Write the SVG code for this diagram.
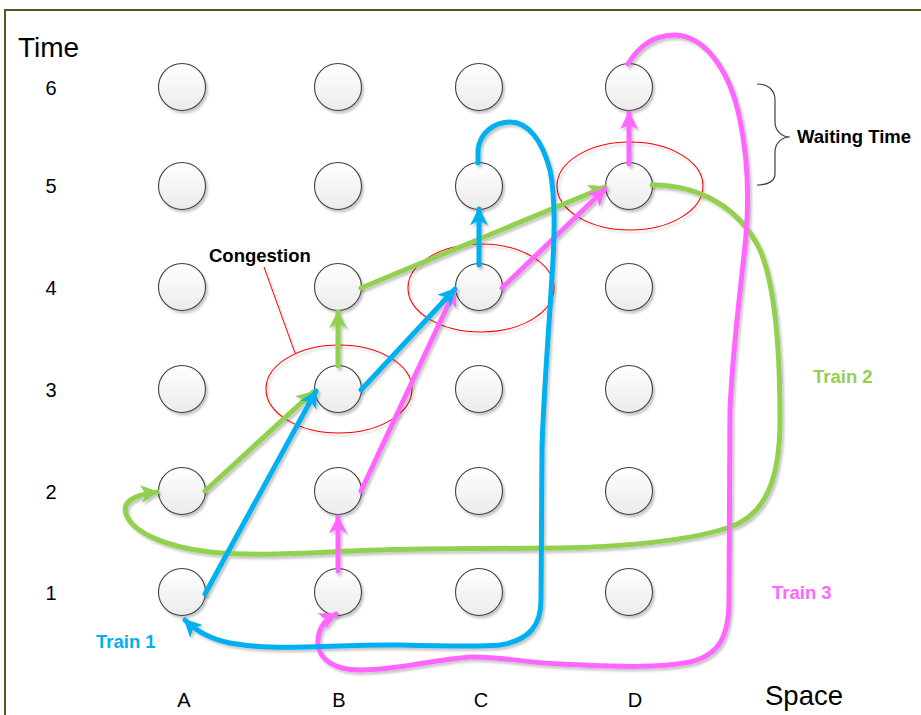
<svg xmlns="http://www.w3.org/2000/svg" width="921" height="715" viewBox="0 0 921 715">
<defs>
<style>
.node{fill:url(#ng);stroke:#404040;stroke-width:1.1}
.ax{font-family:"Liberation Sans",Arial,sans-serif;fill:#000}
.lbl{font-family:"Liberation Sans",Arial,sans-serif;font-weight:bold;font-size:18.5px}
.t1{stroke:#00B0F0;fill:none;stroke-width:5;stroke-linecap:round;stroke-linejoin:round}
.t2{stroke:#92D050;fill:none;stroke-width:5;stroke-linecap:round;stroke-linejoin:round}
.t3{stroke:#FF66FF;fill:none;stroke-width:5;stroke-linecap:round;stroke-linejoin:round}
.cg{fill:none;stroke:#FF0000;stroke-width:1.1}
</style>
<linearGradient id="ng" x1="0" y1="0" x2="0" y2="1">
<stop offset="0" stop-color="#ffffff"/>
<stop offset="1" stop-color="#ebebeb"/>
</linearGradient>
<filter id="sh" x="-20%" y="-20%" width="140%" height="140%">
<feDropShadow dx="2" dy="2.5" stdDeviation="1.2" flood-color="#000" flood-opacity="0.22"/>
</filter>
<marker id="a1" viewBox="0 0 10 10" refX="9" refY="5" markerWidth="3.6" markerHeight="3.6" markerUnits="strokeWidth" orient="auto">
<path d="M0,0 L10,5 L0,10 L2.5,5 z" fill="#00B0F0"/>
</marker>
<marker id="a2" viewBox="0 0 10 10" refX="9" refY="5" markerWidth="3.6" markerHeight="3.6" markerUnits="strokeWidth" orient="auto">
<path d="M0,0 L10,5 L0,10 L2.5,5 z" fill="#92D050"/>
</marker>
<marker id="a3" viewBox="0 0 10 10" refX="9" refY="5" markerWidth="3.6" markerHeight="3.6" markerUnits="strokeWidth" orient="auto">
<path d="M0,0 L10,5 L0,10 L2.5,5 z" fill="#FF66FF"/>
</marker>
</defs>
<rect x="0" y="0" width="921" height="715" fill="#fff"/>
<rect x="5" y="10" width="940" height="730" fill="none" stroke="#4F5A22" stroke-width="2"/>

<g id="axes">
<text class="ax" x="18" y="57" font-size="28">Time</text>
<text class="ax" x="765" y="705" font-size="27.5">Space</text>
<g font-size="20" text-anchor="middle" class="ax">
<text x="51" y="95">6</text>
<text x="51" y="193">5</text>
<text x="51" y="295">4</text>
<text x="51" y="397">3</text>
<text x="51" y="499">2</text>
<text x="51" y="600">1</text>
<text x="184" y="707">A</text>
<text x="339" y="707">B</text>
<text x="481" y="707">C</text>
<text x="635" y="707">D</text>
</g>
</g>

<g id="congestion" filter="url(#sh)">
<ellipse class="cg" cx="339" cy="389" rx="73" ry="44"/>
<ellipse class="cg" cx="481" cy="288" rx="73" ry="44"/>
<ellipse class="cg" cx="630" cy="186" rx="73" ry="44"/>
<line x1="264" y1="267" x2="295" y2="353" stroke="#FF0000" stroke-width="1"/>
</g>

<g id="nodes" filter="url(#sh)">
<g id="n-A6"><circle class="node" cx="182" cy="87" r="23.5"/></g>
<g id="n-B6"><circle class="node" cx="338" cy="87" r="23.5"/></g>
<g id="n-C6"><circle class="node" cx="479" cy="87" r="23.5"/></g>
<g id="n-D6"><circle class="node" cx="629" cy="87" r="23.5"/></g>
<g id="n-A5"><circle class="node" cx="182" cy="186" r="23.5"/></g>
<g id="n-B5"><circle class="node" cx="338" cy="186" r="23.5"/></g>
<g id="n-C5"><circle class="node" cx="479" cy="186" r="23.5"/></g>
<g id="n-D5"><circle class="node" cx="629" cy="186" r="23.5"/></g>
<g id="n-A4"><circle class="node" cx="182" cy="287" r="23.5"/></g>
<g id="n-B4"><circle class="node" cx="338" cy="287" r="23.5"/></g>
<g id="n-C4"><circle class="node" cx="479" cy="287" r="23.5"/></g>
<g id="n-D4"><circle class="node" cx="629" cy="287" r="23.5"/></g>
<g id="n-A3"><circle class="node" cx="182" cy="389" r="23.5"/></g>
<g id="n-B3"><circle class="node" cx="338" cy="389" r="23.5"/></g>
<g id="n-C3"><circle class="node" cx="479" cy="389" r="23.5"/></g>
<g id="n-D3"><circle class="node" cx="629" cy="389" r="23.5"/></g>
<g id="n-A2"><circle class="node" cx="182" cy="491" r="23.5"/></g>
<g id="n-B2"><circle class="node" cx="338" cy="491" r="23.5"/></g>
<g id="n-C2"><circle class="node" cx="479" cy="491" r="23.5"/></g>
<g id="n-D2"><circle class="node" cx="629" cy="491" r="23.5"/></g>
<g id="n-A1"><circle class="node" cx="182" cy="592" r="23.5"/></g>
<g id="n-B1"><circle class="node" cx="338" cy="592" r="23.5"/></g>
<g id="n-C1"><circle class="node" cx="479" cy="592" r="23.5"/></g>
<g id="n-D1"><circle class="node" cx="629" cy="592" r="23.5"/></g>
</g>

<g id="connectors" filter="url(#sh)">
<!-- Train 2 -->
<path class="t2" d="M652,185 C700,185 740,208 760,250 C775,285 780,350 780,420 C780,480 765,515 730,527 C690,541 620,547 560,548 L420,549 C330,550 270,558 210,552 C165,547 132,532 126,514 C122,502 133,495 157,492" marker-end="url(#a2)"/>
<path class="t2" d="M205,491 L313,392" marker-end="url(#a2)"/>
<path class="t2" d="M338,366 L338,312" marker-end="url(#a2)"/>
<path class="t2" d="M361,288 L605,187" marker-end="url(#a2)"/>
<!-- Train 3 -->
<path class="t3" d="M628,64 C640,44 655,35 675,35 C705,36 730,70 740,120 C748,160 749,200 746,235 C742,280 733,340 730,410 L729,600 C729,635 720,655 690,662 C660,668 620,667 560,664 C520,662 495,656 470,657 C430,660 400,670 360,670 C335,670 320,660 318,645 C317,630 324,620 336,614" marker-end="url(#a3)"/>
<path class="t3" d="M338,571 L338,517" marker-end="url(#a3)"/>
<path class="t3" d="M361,491 L455,290" marker-end="url(#a3)"/>
<path class="t3" d="M502,288 L605,189" marker-end="url(#a3)"/>
<path class="t3" d="M629,164 L629,113" marker-end="url(#a3)"/>
<!-- Train 1 -->
<path class="t1" d="M478,163 L478,150 C480,132 495,122 510,122 C528,122 542,140 550,170 C555,195 555,225 553,260 C549,330 543,400 542,450 L541,600 C541,625 530,640 500,645 C480,647 440,646 400,645 C330,644 280,652 230,643 C210,639 195,630 185,620" marker-end="url(#a1)"/>
<path class="t1" d="M205,594 L316,391" marker-end="url(#a1)"/>
<path class="t1" d="M361,390 L455,289" marker-end="url(#a1)"/>
<path class="t1" d="M479,265 L479,209" marker-end="url(#a1)"/>
</g>

<g id="labels">
<text class="lbl" x="209" y="262" fill="#000">Congestion</text>
<text class="lbl" x="797" y="143" fill="#000" font-size="19">Waiting Time</text>
<path d="M757,84 C768,84 775,90 775,100 L775,122 C775,131 782,137 790,137 C782,137 775,143 775,152 L775,174 C775,181 768,185 757,185" fill="none" stroke="#404040" stroke-width="1.2"/>
<text class="lbl" x="96" y="648" fill="#00B0F0">Train 1</text>
<text class="lbl" x="813" y="383" fill="#92D050">Train 2</text>
<text class="lbl" x="772" y="599" fill="#FF66FF">Train 3</text>
</g>
</svg>
